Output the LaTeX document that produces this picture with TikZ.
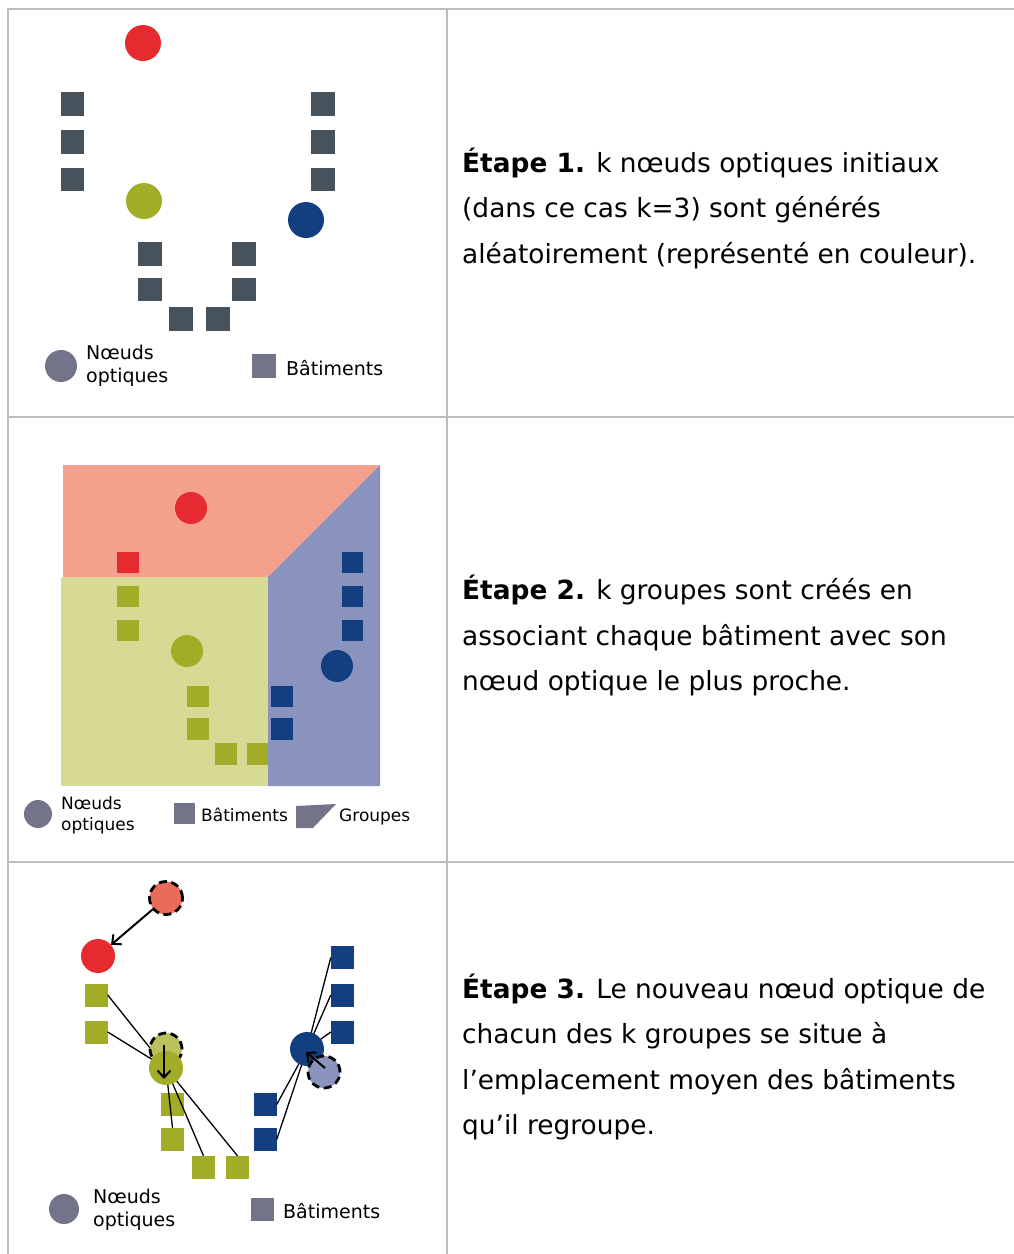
\documentclass[tikz,border=0pt]{standalone}
\usepackage{fontspec}
\setmainfont{DejaVu Sans}
\usetikzlibrary{arrows.meta,calc}
\definecolor{bldg}{HTML}{47535C}
\definecolor{cR}{HTML}{E52A30}
\definecolor{cG}{HTML}{A2AD27}
\definecolor{cB}{HTML}{133F80}
\definecolor{lgray}{HTML}{737389}
\definecolor{regR}{HTML}{F3A18C}
\definecolor{regG}{HTML}{D6DA94}
\definecolor{regB}{HTML}{8A93BD}
\definecolor{oldR}{HTML}{EC6A59}
\definecolor{oldG}{HTML}{BAC25E}
\definecolor{oldB}{HTML}{8B94BE}
\definecolor{rule}{HTML}{BDBDBD}
\pgfdeclarelayer{front}
\pgfsetlayers{main,front}
\begin{document}
\begin{tikzpicture}[x=1pt,y=-1pt,
  sqbox/.style={rectangle,inner sep=0pt,minimum width=#1,minimum height=#1},
  dotnode/.style={circle,inner sep=0pt,minimum size=#1},
  olddot/.style={circle,inner sep=0pt,minimum size=#1,draw=black,line width=2.8pt,dash pattern=on 8pt off 4.5pt},
  steptext/.style={anchor=west,inner sep=0pt,align=left,font=\fontsize{26.4}{45.5}\selectfont},
  legtext/.style 2 args={anchor=west,inner sep=0pt,align=left,font=\fontsize{#1}{#2}\selectfont},
  link/.style={draw=black,line width=1.3pt},
  arr/.style={draw=black,line width=2pt,-{Straight Barb[length=7pt,width=13pt,line width=2pt]}},
  tablerule/.style={draw=rule,line width=2pt}
]
\useasboundingbox (0,0) rectangle (1014,1254);
% table
\draw[tablerule] (8,1254) -- (8,9) -- (1014,9);
\draw[tablerule] (447,9) -- (447,1254);
\draw[tablerule] (8,417) -- (1014,417);
\draw[tablerule] (8,862) -- (1014,862);

% ---------------- Panel 1
\node[dotnode=36pt,fill=cR] (p1r) at (143,43) {};
\node[dotnode=36pt,fill=cG] (p1g) at (144,201) {};
\node[dotnode=36pt,fill=cB] (p1b) at (306,220) {};
\foreach \n/\x/\y in {a/72.5/104,b/72.5/142,c/72.5/179.5,d/323/104,e/323/142,f/323/179.5,
  g/150/254,h/150/289.5,i/244/254,j/244/289.5,k/181/319,l/218/319}
  \node[sqbox=23.5pt,fill=bldg] (p1s\n) at (\x,\y) {};
\node[dotnode=32pt,fill=lgray] (p1lc) at (61,366) {};
\node[legtext={19}{23}] (p1lt) at (86,366) {Nœuds\\optiques};
\node[sqbox=24pt,fill=lgray] (p1ls) at (264,366) {};
\node[legtext={19}{23}] (p1lb) at (286,368) {Bâtiments};
\node[steptext] (t1) at (462,208) {\textbf{Étape 1.} k nœuds optiques initiaux\\(dans ce cas k=3) sont générés\\aléatoirement (représenté en couleur).};

% ---------------- Panel 2
\fill[regR] (63,465) -- (380,465) -- (268,577) -- (63,577) -- cycle;
\fill[regG] (61,577) -- (268,577) -- (268,786) -- (61,786) -- cycle;
\fill[regB] (380,465) -- (268,577) -- (268,786) -- (380,786) -- cycle;
\node[dotnode=32pt,fill=cR] (p2r) at (191,508) {};
\node[dotnode=32pt,fill=cG] (p2g) at (187,651) {};
\node[dotnode=32pt,fill=cB] (p2b) at (337,666) {};
\node[sqbox=21.5pt,fill=cR] (p2sr) at (128,562.5) {};
\foreach \n/\x/\y in {a/128/596.5,b/128/630.5,c/198/696.5,d/198/729,e/226/754,f/257.5/754}
  \node[sqbox=21.5pt,fill=cG] (p2sg\n) at (\x,\y) {};
\foreach \n/\x/\y in {a/352.5/562.5,b/352.5/596.5,c/352.5/630.5,d/282/696.5,e/282/729}
  \node[sqbox=21.5pt,fill=cB] (p2sb\n) at (\x,\y) {};
\node[dotnode=28pt,fill=lgray] (p2lc) at (38,814) {};
\node[legtext={17}{21}] (p2lt) at (61,815) {Nœuds\\optiques};
\node[sqbox=21pt,fill=lgray] (p2ls) at (184.5,813.5) {};
\node[legtext={17}{21}] (p2lb) at (201,815) {Bâtiments};
\fill[lgray] (296,806) -- (336,804) -- (313,828) -- (296,828) -- cycle;
\node[legtext={17}{21}] (p2lg) at (339,817) {Groupes};
\node[steptext] (t2) at (462,635.5) {\textbf{Étape 2.} k groupes sont créés en\\associant chaque bâtiment avec son\\nœud optique le plus proche.};

% ---------------- Panel 3
\foreach \n/\x/\y in {a/96/995,b/96/1032,c/172.5/1104.5,d/172.5/1139.5,e/203.5/1167.5,f/237.5/1167.5}
  \node[sqbox=23pt,fill=cG] (p3sg\n) at (\x,\y) {};
\foreach \n/\x/\y in {a/342.5/957.5,b/342.5/995,c/342.5/1032,d/265/1104.5,e/265/1139.5}
  \node[sqbox=23pt,fill=cB] (p3sb\n) at (\x,\y) {};
\begin{pgfonlayer}{front}
\node[olddot=33pt,fill=oldR] (p3ro) at (166,898) {};
\node[dotnode=34pt,fill=cR] (p3rn) at (98,956) {};
\node[olddot=32pt,fill=oldG] (p3go) at (166,1049) {};
\node[dotnode=34pt,fill=cG] (p3gn) at (166,1068) {};
\node[dotnode=34pt,fill=cB] (p3bn) at (307,1049) {};
\node[olddot=32pt,fill=oldB] (p3bo) at (324,1072) {};
\draw[arr] (p3ro) -- (p3rn);
\draw[arr] ($(p3go.center)+(-2,-4)$) -- ($(p3gn.center)+(-2,11)$);
\draw[arr] ($(p3bo.center)+(1,-4)$) -- ($(p3bn.center)+(-1,3)$);
\end{pgfonlayer}
\draw[link] (p3sga.east) -- (p3gn.center);
\draw[link] (p3sgb.east) -- (p3gn.center);
\draw[link] (p3sgd.north) -- (p3gn.center);
\draw[link] (p3sge.north) -- (p3gn.center);
\draw[link] (p3sgf.north) -- (p3gn.center);
\draw[link] (p3sba.west) -- (p3bn.center);
\draw[link] (p3sbb.west) -- (p3bn.center);
\draw[link] (p3sbc.west) -- (p3bn.center);
\draw[link] (p3sbd.east) -- (p3bn.center);
\draw[link] (p3sbe.east) -- (p3bn.center);
\node[dotnode=30pt,fill=lgray] (p3lc) at (64,1209) {};
\node[legtext={19}{23}] (p3lt) at (93,1210) {Nœuds\\optiques};
\node[sqbox=23pt,fill=lgray] (p3ls) at (262.5,1209.5) {};
\node[legtext={19}{23}] (p3lb) at (283,1211) {Bâtiments};
\node[steptext] (t3) at (462,1057) {\textbf{Étape 3.} Le nouveau nœud optique de\\chacun des k groupes se situe à\\l’emplacement moyen des bâtiments\\qu’il regroupe.};
\end{tikzpicture}
\end{document}
